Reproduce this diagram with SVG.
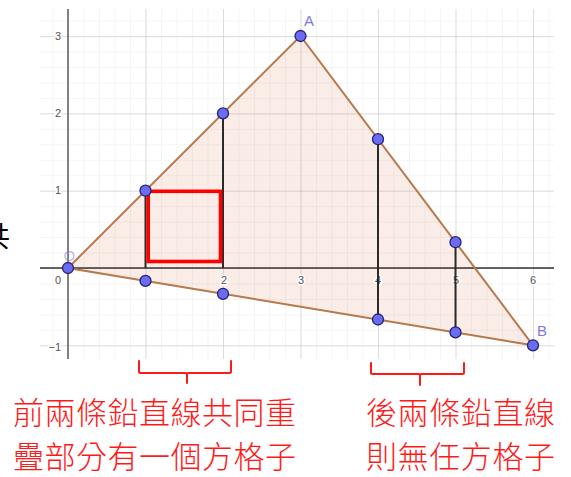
<svg xmlns="http://www.w3.org/2000/svg" width="571" height="477" viewBox="0 0 571 477">
<style>
.tick{font-family:"Liberation Sans",Arial,sans-serif;font-size:11px;fill:#555;stroke:#fff;stroke-width:3px;paint-order:stroke;stroke-linejoin:round}
.pt{fill:#6c6cf0;stroke:#23237a;stroke-width:1.3}
.lbl{font-family:"Liberation Sans",Arial,sans-serif;font-size:15px;fill:#7b7be0}
.edge{stroke:#b8784c;stroke-width:2;fill:none;stroke-linecap:round}
.seg{stroke:#2a2a2a;stroke-width:2}
.cap{font-family:"Noto Sans CJK TC","Noto Sans CJK SC",sans-serif;font-size:31px;font-weight:300;fill:#ff1a1a}
.brace{fill:none;stroke:#ff1a1a;stroke-width:2;stroke-linejoin:round;stroke-linecap:round}
</style>
<defs>
<pattern id="minor" patternUnits="userSpaceOnUse" x="68" y="268" width="15.5" height="15.46">
<path d="M0 0V15.46M0 0H15.5" stroke="#e9e9e9" stroke-width="1" fill="none"/>
</pattern>
<pattern id="major" patternUnits="userSpaceOnUse" x="68" y="268" width="77.5" height="77.3">
<path d="M0 0V77.3M0 0H77.5" stroke="#c4c4c4" stroke-width="1" fill="none"/>
</pattern>
</defs>
<rect width="571" height="477" fill="#fff"/>
<text x="-18" y="247" font-family="'Noto Sans CJK TC',sans-serif" font-size="28" fill="#000">共</text>
<g id="grid">
<rect x="40" y="9" width="514" height="350" fill="url(#minor)"/>
<rect x="40" y="9" width="514" height="350" fill="url(#major)"/>
</g>
<g id="triangle">
<polygon points="68,268 300.5,36 533,345.3" fill="#d2693c" fill-opacity="0.12" stroke="none"/>
</g>
<g id="axes">
<line x1="68" y1="9" x2="68" y2="359" stroke="#666" stroke-width="1.6"/>
<line x1="40" y1="268" x2="554" y2="268" stroke="#333" stroke-width="1.4"/>
<text class="tick" x="61" y="40" text-anchor="end">3</text>
<text class="tick" x="61" y="117" text-anchor="end">2</text>
<text class="tick" x="61" y="194" text-anchor="end">1</text>
<text class="tick" x="61" y="284" text-anchor="end">0</text>
<text class="tick" x="61" y="351" text-anchor="end">−1</text>
<text class="tick" x="224" y="284" text-anchor="middle">2</text>
<text class="tick" x="301" y="284" text-anchor="middle">3</text>
<text class="tick" x="378" y="284" text-anchor="middle">4</text>
<text class="tick" x="456" y="284" text-anchor="middle">5</text>
<text class="tick" x="533" y="284" text-anchor="middle">6</text>
</g>
<g id="connectors">
<line class="seg" x1="145.5" y1="190.7" x2="145.5" y2="268"/>
<line class="seg" x1="223" y1="113.4" x2="223" y2="268"/>
<line class="seg" x1="378" y1="139.2" x2="378" y2="319.5"/>
<line class="seg" x1="455.5" y1="242.2" x2="455.5" y2="332.4"/>
<path class="edge" d="M68 268L300.5 36L533 345.3Z"/>
</g>
<g id="square">
<rect x="148.2" y="191.3" width="72.3" height="70.2" fill="none" stroke="#ff0000" stroke-width="3.6"/>
</g>
<g id="points">
<circle class="pt" cx="68" cy="268" r="5.5"/>
<circle class="pt" cx="300.5" cy="36" r="5.5"/>
<circle class="pt" cx="533" cy="345.3" r="5.5"/>
<circle class="pt" cx="145.5" cy="190.7" r="5.5"/>
<circle class="pt" cx="223" cy="113.4" r="5.5"/>
<circle class="pt" cx="378" cy="139.2" r="5.5"/>
<circle class="pt" cx="455.5" cy="242.2" r="5.5"/>
<circle class="pt" cx="145.5" cy="280.9" r="5.5"/>
<circle class="pt" cx="223" cy="293.8" r="5.5"/>
<circle class="pt" cx="378" cy="319.5" r="5.5"/>
<circle class="pt" cx="455.5" cy="332.4" r="5.5"/>
<text class="lbl" x="63.5" y="261" fill-opacity="0.55">O</text>
<text class="lbl" x="304" y="26">A</text>
<text class="lbl" x="537" y="336">B</text>
</g>
<g id="note-left">
<path class="brace" d="M139 361V371.5Q139 373 140.5 373H185.5Q187 373 187 375V383M187 375Q187 373 188.5 373H229.5Q231 373 231 371.5V361"/>
<text class="cap" x="13" y="424" textLength="283" lengthAdjust="spacing">前兩條鉛直線共同重</text>
<text class="cap" x="13" y="468" textLength="283" lengthAdjust="spacing">疊部分有一個方格子</text>
</g>
<g id="note-right">
<path class="brace" d="M371 363V372.5Q371 374 372.5 374H418.5Q420 374 420 376V385M420 376Q420 374 421.5 374H462.5Q464 374 464 372.5V363"/>
<text class="cap" x="366" y="424" textLength="189" lengthAdjust="spacing">後兩條鉛直線</text>
<text class="cap" x="366" y="468" textLength="189" lengthAdjust="spacing">則無任方格子</text>
</g>
</svg>
